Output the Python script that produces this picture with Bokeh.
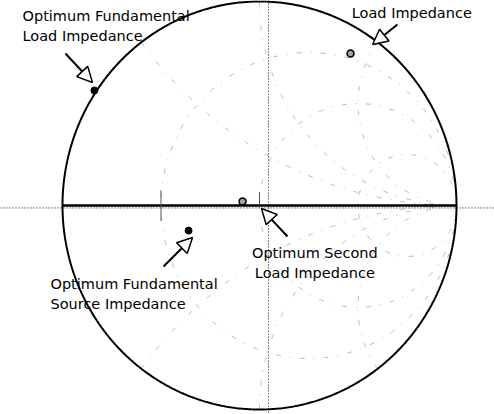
import numpy as np
from bokeh.plotting import figure
from bokeh.models import Range1d, Arrow, NormalHead, Label, Span
from bokeh.embed import file_html
from bokeh.resources import INLINE

# Smith chart grid: constant-resistance circles and constant-reactance arcs
r_circles = [1 / 3, 1, 3]
x_arcs = [0.5, 1, 2, -0.5, -1, -2]

# Marked impedances as reflection coefficients (real, imaginary)
point_names = ["fund_load", "fund_source", "second_load", "second_load_alt"]
gamma_re = [-0.838, -0.360, -0.086, 0.462]
gamma_im = [0.564, -0.123, 0.020, 0.745]
point_filled = [True, True, False, False]

# Annotation texts and arrows (tail -> tip, in reflection-coefficient units)
label_lines = [
    ["Optimum Fundamental", "Load Impedance"],
    ["Load Impedance"],
    ["Optimum Second", "Load Impedance"],
    ["Optimum Fundamental", "Source Impedance"],
]
label_anchor = [(-1.203, 0.927, "left"), (0.773, 0.946, "center"),
                (0.281, -0.231, "center"), (-1.061, -0.385, "left")]
arrow_tail = [(-0.985, 0.745), (0.700, 0.887), (0.142, -0.152), (-0.487, -0.299)]
arrow_tip = [(-0.848, 0.603), (0.574, 0.789), (0.010, -0.015), (-0.340, -0.157)]

W, H = 494, 414
CX, CY, RX, RY = 259.0, 205.0, 197.0, 204.0

p = figure(width=W, height=H, output_backend="svg", toolbar_location=None,
           x_range=Range1d(-CX / RX, (W - CX) / RX),
           y_range=Range1d((CY - H) / RY, CY / RY),
           min_border=0, outline_line_color=None)
p.axis.visible = False
p.grid.visible = False
p.background_fill_color = "white"

grid_style = dict(line_color="#8c8c8c", line_width=1, line_dash="5 9 1 9", line_alpha=0.6)


def to_gamma(z):
    return (z - 1) / (z + 1)


t = np.concatenate([-np.logspace(3, -3, 400), [0], np.logspace(-3, 3, 400)])
for r in r_circles:
    g = to_gamma(r + 1j * t)
    p.line(g.real, g.imag, **grid_style)

s = np.concatenate([[0], np.logspace(-3, 3, 600)])
for xv in x_arcs:
    g = to_gamma(s + 1j * xv)
    p.line(g.real, g.imag, **grid_style)

# Plot axes through the chart
p.add_layout(Span(location=-0.012, dimension="width", line_color="black",
                  line_width=1, line_dash="1 2"))
p.add_layout(Span(location=0.046, dimension="height", line_color="black",
                  line_width=1, line_dash="1 2"))

# Real axis of the chart and short marks where resistance circles cross it
p.line([-1, 1], [0, 0], line_color="black", line_width=2.5)
for r in r_circles[:2]:
    gx = (r - 1) / (r + 1)
    p.line([gx, gx], [-0.075, 0.075] if r < 1 else [0, 0.065],
           line_color="#555555", line_width=1)

# Outer boundary |Gamma| = 1
theta = np.linspace(0, 2 * np.pi, 721)
p.line(np.cos(theta), np.sin(theta), line_color="black", line_width=2)

# Markers
for re_, im_, filled in zip(gamma_re, gamma_im, point_filled):
    if filled:
        p.scatter([re_], [im_], marker="circle", size=7, fill_color="black",
                  line_color="black")
    else:
        p.scatter([re_], [im_], marker="circle", size=7, fill_color="#a0a0a0",
                  line_color="black", line_width=1.5)

# Arrows
for (x0, y0), (x1, y1) in zip(arrow_tail, arrow_tip):
    p.add_layout(Arrow(x_start=x0, y_start=y0, x_end=x1, y_end=y1,
                       line_color="black", line_width=2,
                       end=NormalHead(size=15, fill_color="white",
                                      line_color="black", line_width=1.5)))

# Labels
line_gap = 20.0 / RY
for lines, (lx, ly, align) in zip(label_lines, label_anchor):
    for i, txt in enumerate(lines):
        p.add_layout(Label(x=lx, y=ly - i * line_gap, text=txt,
                           text_font="DejaVu Sans", text_font_size="14.5px",
                           text_color="black", text_align=align,
                           text_baseline="alphabetic"))

open("out.html", "w").write(file_html(p, INLINE))
